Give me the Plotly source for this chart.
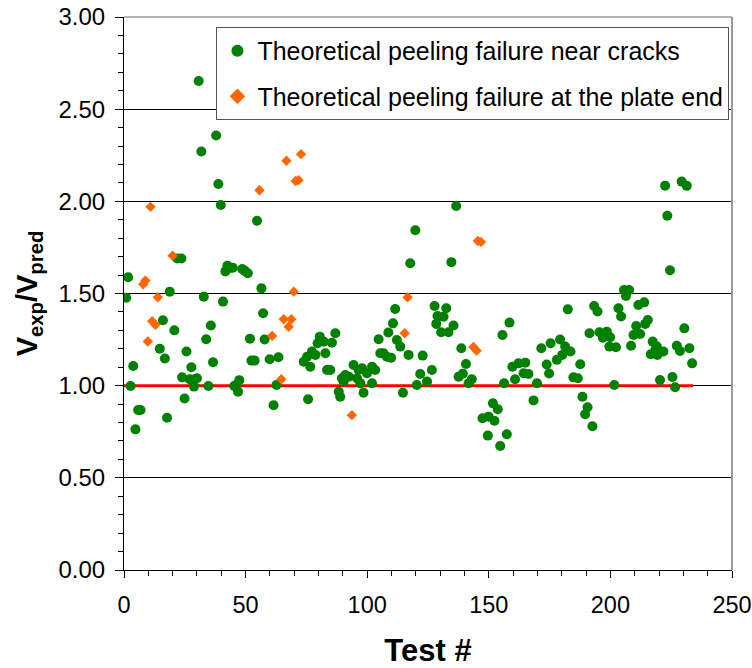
import plotly.graph_objects as go

# Green: theoretical peeling failure near cracks
green_x = [0.9, 1.7, 2.7, 3.8, 4.7, 5.8, 6.8,
           14.7, 16.0, 16.8, 17.7, 18.8, 20.7, 21.9, 23.6,
           23.9, 24.9, 25.7, 27.0, 27.7, 28.8, 29.0, 30.0,
           30.7, 31.8, 32.8, 33.8, 34.7, 35.7, 36.6, 37.9, 38.8, 39.8, 40.7, 41.7, 42.5, 43.8, 44.7,
           45.3, 46.2, 46.9, 47.4, 48.6, 49.6, 50.9, 51.8, 52.4, 53.7, 54.7, 56.5, 57.2, 57.8, 59.9,
           61.5, 62.7, 63.5, 73.9, 75.3, 75.7, 76.6, 77.3, 78.7, 79.6, 80.5, 82.1, 82.8, 83.5, 84.8, 85.5, 86.9,
           88.3, 88.9, 89.6, 90.3, 91.0, 92.4, 94.4, 95.8, 96.5, 97.2, 97.9, 98.5, 99.9, 102.0, 102.0, 103.3,
           104.7, 105.4, 106.7, 108.1, 108.7, 109.8, 110.6, 111.5, 112.2, 113.6, 114.7, 117.0, 117.7, 119.8,
           120.4, 121.8, 122.8, 124.6, 126.6, 127.7, 128.4, 128.9, 130.4, 131.4, 132.5, 133.4, 134.6, 135.5, 136.6,
           137.6, 138.7, 139.3, 140.6, 141.7, 143.0,
           147.4, 149.6, 149.9, 151.7, 152.3, 153.7, 154.7, 155.6, 156.3, 157.4, 158.5,
           159.7, 160.8, 162.2, 164.3, 165.0, 166.3, 168.4, 169.8, 171.6, 173.8, 174.8, 175.4,
           178.0, 179.3, 180.2, 181.4, 182.5, 183.6, 184.8, 186.6, 187.6, 188.5, 189.6, 190.6, 191.4, 192.6,
           193.3, 194.7, 195.5, 196.9, 198.5, 199.6, 199.9, 201.6, 202.3, 203.3, 204.4, 205.6, 206.4, 207.7,
           208.5, 209.5, 210.6, 211.5, 212.2, 213.9, 214.3, 215.4, 216.6, 217.4, 218.5, 219.1, 219.3, 220.4,
           221.8, 222.5, 223.4, 224.5, 225.5, 226.6, 227.3, 228.6, 229.3, 230.4, 231.4, 232.5, 233.6]
green_y = [1.477, 1.588, 0.998, 1.107, 0.763, 0.868, 0.868,
           1.20, 1.355, 1.147, 0.826, 1.51, 1.30, 1.69, 1.69,
           1.045, 0.93, 1.185, 1.035, 1.10, 0.995, 1.035, 1.04,
           2.653, 2.27, 1.483, 1.252, 0.998, 1.326, 1.127, 2.357, 2.094, 1.98, 1.456, 1.62, 1.65, 1.64, 1.64,
           0.998, 1.004, 0.967, 1.03, 1.633, 1.624, 1.61, 1.255, 1.136, 1.136, 1.895, 1.528, 1.393, 1.25, 1.143,
           0.894, 1.004, 1.154, 1.13, 1.157, 0.926, 1.103, 1.185, 1.167, 1.23, 1.266, 1.239, 1.176, 1.085, 1.085, 1.233, 1.284,
           0.967, 0.94, 1.04, 1.022, 1.058, 1.049, 1.112, 1.04, 1.085, 1.013, 1.094, 0.962, 1.067, 1.103, 1.013, 1.085,
           1.252, 1.176, 1.176, 1.157, 1.288, 1.152, 1.338, 1.416, 1.248, 1.212, 0.962, 1.167, 1.664, 1.843,
           1.004, 1.063, 1.163, 1.022, 1.085, 1.432, 1.335, 1.378, 1.29, 1.374, 1.42, 1.29, 1.67, 1.326, 1.975,
           1.049, 1.203, 1.065, 1.118, 1.013, 1.035,
           0.823, 0.729, 0.832, 0.904, 0.81, 0.872, 0.673, 1.275, 1.013, 0.736, 1.342,
           1.103, 1.035, 1.121, 1.067, 1.125, 1.063, 0.92, 1.013, 1.203, 1.115, 1.066, 1.23,
           1.14, 1.25, 1.167, 1.212, 1.414, 1.185, 1.045, 1.04, 1.116, 0.94, 0.845, 0.883, 1.284, 0.78,
           1.432, 1.402, 1.29, 1.26, 1.293, 1.212, 1.263, 1.004, 1.208, 1.42, 1.375, 1.519, 1.487, 1.519,
           1.217, 1.275, 1.324, 1.438, 1.28, 1.452, 1.335, 1.356, 1.17, 1.239, 1.194, 1.212, 1.167, 1.031,
           1.185, 2.085, 1.922, 1.626, 1.047, 0.991, 1.217, 1.188, 2.107, 1.311, 2.084, 1.203, 1.121]

# Orange: theoretical peeling failure at the plate end
orange_x = [7.9, 8.8, 9.8, 10.9, 11.6, 12.9, 13.9, 20.0, 55.7, 60.9, 64.7, 65.7, 66.8,
            67.7, 68.8, 69.8, 70.6, 71.8, 72.8, 93.7, 115.4, 116.6, 143.7, 145.0, 145.5, 146.8]
orange_y = [1.55, 1.57, 1.24, 1.97, 1.35, 1.33, 1.48, 1.705, 2.06, 1.27, 1.035, 1.36, 2.22,
            1.32, 1.36, 1.51, 2.11, 2.115, 2.256, 0.84, 1.284, 1.48, 1.21, 1.19, 1.785, 1.78]

# Reference line Vexp/Vpred = 1
ref_x = [0, 234]
ref_y = [1, 1]

series_names = ["Theoretical peeling failure near cracks",
                "Theoretical peeling failure at the plate end"]

fig = go.Figure()
fig.add_trace(go.Scatter(x=ref_x, y=ref_y, mode="lines",
                         line=dict(color="#FF0000", width=3), showlegend=False,
                         hoverinfo="skip"))
fig.add_trace(go.Scatter(x=green_x, y=green_y, mode="markers", name=series_names[0],
                         legendgroup="g1",
                         marker=dict(symbol="circle", size=10, color="#008000",
                                     line=dict(width=0))))
fig.add_trace(go.Scatter(x=orange_x, y=orange_y, mode="markers", name=series_names[1],
                         legendgroup="g2",
                         marker=dict(symbol="diamond", size=8, color="#FF6600",
                                     line=dict(width=0))))

sans = "Liberation Sans, Arial, sans-serif"

fig.update_layout(
    width=752, height=668,
    margin=dict(l=123.5, r=20, t=17, b=98, autoexpand=False),
    paper_bgcolor="white", plot_bgcolor="white",
    showlegend=True,
    legend=dict(x=0.152, y=0.982, xanchor="left", yanchor="top",
                bgcolor="white", bordercolor="#555555", borderwidth=1,
                font=dict(family=sans, size=25, color="black"),
                itemsizing="constant", tracegroupgap=10),
    xaxis=dict(range=[0, 250], dtick=50, tick0=0, showgrid=False, zeroline=False,
               automargin=False, ticklabeloverflow="allow",
               showline=True, linecolor="black", linewidth=1,
               ticks="outside", ticklen=7, tickcolor="black",
               minor=dict(dtick=10, ticks="outside", ticklen=5, tickcolor="black"),
               tickfont=dict(family=sans, size=23.5, color="black"),
               ticklabelstandoff=7,
               title=dict(text="<b>Test #</b>", font=dict(family=sans, size=31, color="black"),
                          standoff=22)),
    yaxis=dict(range=[0, 3], dtick=0.5, tick0=0, tickformat=".2f",
               automargin=False, ticklabeloverflow="allow",
               showgrid=True, gridcolor="black", gridwidth=1, zeroline=False,
               showline=True, linecolor="black", linewidth=1,
               ticks="outside", ticklen=8, tickcolor="black",
               minor=dict(dtick=0.1, ticks="outside", ticklen=5, tickcolor="black", showgrid=False),
               tickfont=dict(family=sans, size=24, color="black"),
               ticklabelstandoff=5,
               title=dict(text="<b>V<sub>exp</sub>/V<sub>pred</sub></b>",
                          font=dict(family=sans, size=29, color="black"), standoff=12)),
    shapes=[
        dict(type="line", xref="paper", yref="paper", x0=0, x1=1, y0=1, y1=1,
             line=dict(color="#999999", width=1.5)),
        dict(type="line", xref="paper", yref="paper", x0=1, x1=1, y0=0, y1=1,
             line=dict(color="#999999", width=2)),
    ],
)

fig.write_html("out.html")
